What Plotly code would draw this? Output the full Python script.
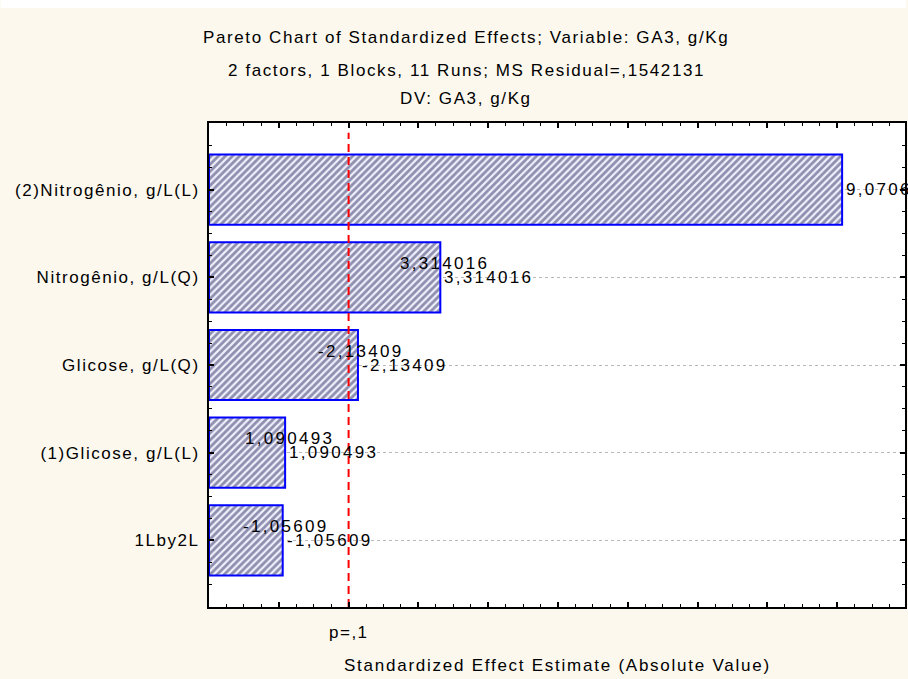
import plotly.graph_objects as go

# ---- data ----
categories = ["(2)Nitrogênio, g/L(L)", "Nitrogênio, g/L(Q)", "Glicose, g/L(Q)",
              "(1)Glicose, g/L(L)", "1Lby2L"]
effects = [9.0706, 3.314016, -2.13409, 1.090493, -1.05609]
effect_labels = ["9,0706", "3,314016", "-2,13409", "1,090493", "-1,05609"]
show_duplicate = [False, True, True, True, True]
t_critical = 2.0
p_label = "p=,1"
title_lines = ["Pareto Chart of Standardized Effects; Variable: GA3, g/Kg",
               "2 factors, 1 Blocks, 11 Runs; MS Residual=,1542131",
               "DV: GA3, g/Kg"]
x_title = "Standardized Effect Estimate (Absolute Value)"

abs_eff = [abs(v) for v in effects]
ypos = list(range(len(categories)))

W, H = 908, 679
ML, MR, MT, MB = 209, 1, 123, 72
PW = W - ML - MR
PH = H - MT - MB
BG = "#FCF8EE"
FONT = "Liberation Sans, Arial, sans-serif"


def spaced(s, px):
    return '<span style="letter-spacing:%.2fpx">%s</span>' % (px, s)


fig = go.Figure()
fig.add_trace(go.Bar(
    x=abs_eff, y=ypos, orientation="h", width=0.8,
    marker=dict(color="#f0f0fc",
                line=dict(color="#0000ff", width=2),
                pattern=dict(shape="/", fgcolor="#2b2b62", bgcolor="#f0f0fc",
                             size=5, solidity=0.55)),
    hoverinfo="skip", showlegend=False))

yr = [4.76, -0.76]
fig.add_trace(go.Scatter(
    x=[t_critical, t_critical], y=[yr[0], -0.65], mode="lines",
    line=dict(color="#ff0000", width=2, dash="8px,5px"),
    hoverinfo="skip", showlegend=False))

ann = []
for i, (v, lab, dup) in enumerate(zip(abs_eff, effect_labels, show_duplicate)):
    ann.append(dict(x=v, y=i, xref="x", yref="y", text=spaced(lab, 2.3),
                    showarrow=False, xanchor="left", yanchor="middle", xshift=2,
                    font=dict(family=FONT, size=17, color="black")))
    if dup:
        ann.append(dict(x=v, y=i, xref="x", yref="y", text=spaced(lab, 2.3),
                        showarrow=False, xanchor="left", yanchor="middle",
                        xshift=-42, yshift=14,
                        font=dict(family=FONT, size=17, color="black")))

ann.append(dict(x=t_critical, y=0, xref="x", yref="paper", text=spaced(p_label, 1.5),
                showarrow=False, xanchor="center", yanchor="middle", yshift=-25,
                font=dict(family=FONT, size=17, color="black")))
ann.append(dict(x=0.5, y=0, xref="paper", yref="paper", text=spaced(x_title, 1.75),
                showarrow=False, xanchor="center", yanchor="middle", yshift=-58,
                font=dict(family=FONT, size=17, color="black")))
for line, ys in zip(title_lines, [86, 53, 25]):
    ann.append(dict(x=(467 - ML) / PW, y=1, xref="paper", yref="paper",
                    text=spaced(line, 1.6), showarrow=False, xanchor="center",
                    yanchor="middle", yshift=ys,
                    font=dict(family=FONT, size=17, color="black")))

fig.update_layout(
    width=W, height=H, margin=dict(l=ML, r=MR, t=MT, b=MB),
    paper_bgcolor=BG, plot_bgcolor="white",
    annotations=ann,
    shapes=[dict(type="rect", xref="paper", yref="paper",
                 x0=-ML / PW, x1=1 + MR / PW,
                 y0=1 + (MT - 8) / PH, y1=1 + MT / PH,
                 line_width=0, fillcolor="white", layer="below")],
    font=dict(family=FONT, size=17, color="black"),
)
fig.update_xaxes(range=[0, PW / 70], showgrid=False, zeroline=False,
                 showline=True, linecolor="black", linewidth=2, mirror="ticks",
                 ticks="inside", ticklen=5, tickwidth=2, tickcolor="black",
                 tick0=0, dtick=1, showticklabels=False,
                 minor=dict(ticks="inside", ticklen=3, tickwidth=1,
                            tickcolor="black", tick0=0, dtick=0.25, showgrid=False))
fig.update_yaxes(range=yr, showgrid=True, gridcolor="#b8b8b8", griddash="dot",
                 gridwidth=1, zeroline=False,
                 showline=True, linecolor="black", linewidth=2, mirror="ticks",
                 ticks="inside", ticklen=5, tickwidth=2, tickcolor="black",
                 tickmode="array", tickvals=ypos,
                 ticktext=[spaced(c, 1.55) for c in categories],
                 ticklabelstandoff=4,
                 tickfont=dict(family=FONT, size=17, color="black"),
                 minor=dict(ticks="inside", ticklen=3, tickwidth=1,
                            tickcolor="black", tickmode="linear", tick0=0,
                            dtick=0.25, showgrid=False))

fig.write_html(
    "out.html",
    config={"displayModeBar": False},
    post_script=("document.documentElement.style.overflow='hidden';"
                 "document.body.style.margin='0';"
                 "document.body.style.overflow='hidden';"))
